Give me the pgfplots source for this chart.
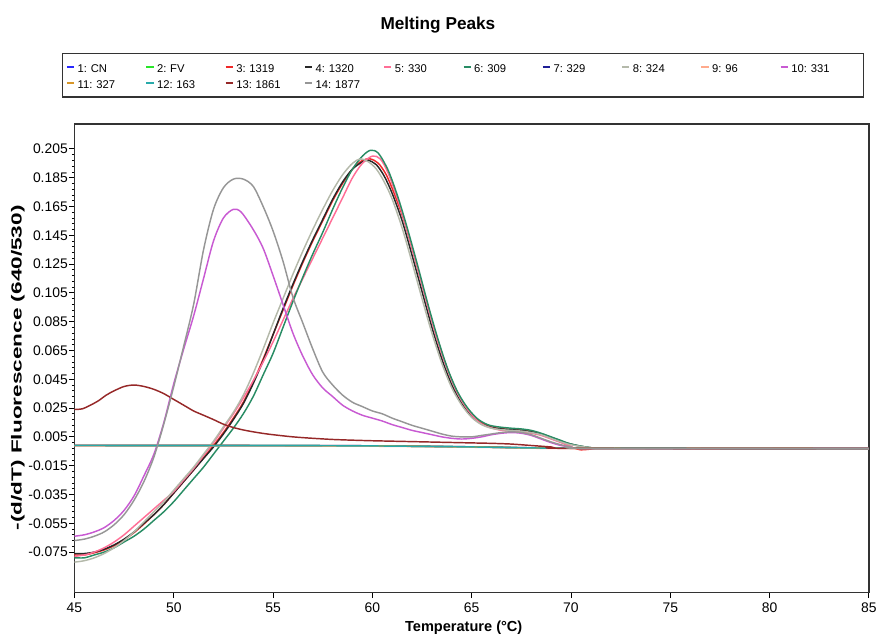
\documentclass[border=0pt]{standalone}
\usepackage{fontspec}
\setmainfont{Liberation Sans}
\usepackage{pgfplots}
\pgfplotsset{compat=1.18}
\frenchspacing

\definecolor{c1}{RGB}{40,40,255}
\definecolor{c2}{RGB}{40,230,40}
\definecolor{c3}{RGB}{240,40,40}
\definecolor{c4}{RGB}{40,40,40}
\definecolor{c5}{RGB}{255,110,150}
\definecolor{c6}{RGB}{40,140,100}
\definecolor{c7}{RGB}{30,30,150}
\definecolor{c8}{RGB}{180,185,170}
\definecolor{c9}{RGB}{255,170,140}
\definecolor{c10}{RGB}{200,90,210}
\definecolor{c11}{RGB}{215,150,40}
\definecolor{c12}{RGB}{40,170,170}
\definecolor{c13}{RGB}{150,40,40}
\definecolor{c14}{RGB}{150,150,150}

\begin{document}
\begin{tikzpicture}
\begin{axis}[
    width=600pt, height=354pt, scale only axis,
    xmin=45, xmax=85, ymin=-0.1033, ymax=0.2222,
    xtick={45,50,55,60,65,70,75,80,85},
    ytick={-0.075,-0.055,-0.035,-0.015,0.005,0.025,0.045,0.065,0.085,0.105,0.125,0.145,0.165,0.185,0.205},
    minor y tick num=4,
    tick align=outside, xtick pos=left, ytick pos=left,
    major tick length=4pt, minor tick length=2pt,
    tick style={black, line width=0.6pt},
    axis line style={line width=1pt, black!80},
    scaled y ticks=false,
    yticklabel style={xshift=2.5pt, /pgf/number format/.cd, fixed, fixed zerofill, precision=3, assume math mode=true},
    xticklabel style={/pgf/number format/assume math mode=true},
    ticklabel style={font=\fontsize{10.5}{12}\selectfont},
    title={Melting Peaks},
    title style={at={(rel axis cs:0.4575,1)}, anchor=center, yshift=69pt, font=\bfseries\fontsize{13}{15}\selectfont},
    xlabel={Temperature (°C)},
    every axis x label/.style={at={(rel axis cs:0.49,0)}, yshift=-26.25pt, anchor=center, font=\bfseries\fontsize{11}{13}\selectfont},
    ylabel={\scalebox{1.55}[1]{-(d/dT) Fluorescence (640/530)}},
    every axis y label/.style={at={(rel axis cs:0,0.48)}, xshift=-42.75pt, rotate=90, anchor=center, font=\bfseries\fontsize{11}{13}\selectfont},
    legend columns=10,
    legend cell align=left,
    legend image code/.code={\draw[#1, line width=1.2pt] (0pt,0pt) -- (5.5pt,0pt);},
    legend style={at={(rel axis cs:-0.01625,1)}, anchor=north west, yshift=54pt,
        draw=black!80, line width=1pt, inner xsep=3pt, inner ysep=4.5pt,
        font=\fontsize{8.5}{10}\selectfont,
        /tikz/every even column/.append style={column sep=0pt},
        nodes={inner xsep=2pt, inner ysep=1pt, text width=49.2pt, text height=9pt, text depth=1pt}},
    every axis plot/.append style={line width=1.1pt, mark=none, smooth, tension=0.5},
]
\coordinate (sw) at (rel axis cs:0,0);
\coordinate (ne) at (rel axis cs:1,1);

% 1: CN (flat)
\addplot[c1] coordinates {(45,-0.0009) (55,-0.0010) (60,-0.0012) (65,-0.0019) (70,-0.0028) (85,-0.0031)};
\addlegendentry{1: CN}
% 2: FV (flat)
\addplot[c2] coordinates {(45,-0.0010) (55,-0.0011) (60,-0.0013) (65,-0.0020) (70,-0.0029) (85,-0.0032)};
\addlegendentry{2: FV}
% 3: 1319
\addplot[c3] coordinates {
    (45,-0.077) (45.5,-0.077) (46,-0.0755) (46.5,-0.0735) (47,-0.0705) (47.5,-0.0665)
    (48,-0.0615) (48.5,-0.0555) (49,-0.049) (49.5,-0.042) (50,-0.034) (50.5,-0.026)
    (51,-0.018) (51.5,-0.0095) (52,-0.001) (52.5,0.008) (53,0.018) (53.5,0.029)
    (54,0.043) (54.5,0.059) (55,0.076) (55.5,0.093) (56,0.110) (56.5,0.126)
    (57,0.141) (57.5,0.155) (58,0.169) (58.5,0.181) (59,0.191) (59.5,0.197)
    (59.9,0.198) (60.3,0.195) (60.7,0.187) (61.1,0.174) (61.6,0.155) (62.1,0.131)
    (62.6,0.106) (63.1,0.081) (63.6,0.059) (64.1,0.041) (64.6,0.028) (65.1,0.019)
    (65.6,0.014) (66.1,0.0115) (66.6,0.0105) (67.1,0.010) (67.6,0.0095) (68.1,0.0085)
    (68.6,0.0065) (69.1,0.004) (69.6,0.001) (70,-0.002) (70.5,-0.004) (71,-0.0035)
    (72,-0.003) (85,-0.003)};
\addlegendentry{3: 1319}
% 4: 1320
\addplot[c4] coordinates {
    (45,-0.076) (45.5,-0.076) (46,-0.075) (46.5,-0.073) (47,-0.070) (47.5,-0.066)
    (48,-0.061) (48.5,-0.055) (49,-0.049) (49.5,-0.042) (50,-0.034) (50.5,-0.026)
    (51,-0.018) (51.5,-0.010) (52,-0.002) (52.5,0.007) (53,0.017) (53.5,0.028)
    (54,0.042) (54.5,0.058) (55,0.076) (55.5,0.094) (56,0.111) (56.5,0.127)
    (57,0.142) (57.5,0.156) (58,0.170) (58.5,0.182) (59,0.191) (59.5,0.196)
    (59.8,0.197) (60.2,0.194) (60.6,0.186) (61,0.174) (61.5,0.155) (62,0.131)
    (62.5,0.106) (63,0.081) (63.5,0.059) (64,0.041) (64.5,0.028) (65,0.019)
    (65.5,0.014) (66,0.0115) (66.5,0.0105) (67,0.010) (67.5,0.0095) (68,0.0085)
    (68.5,0.007) (69,0.0045) (69.5,0.002) (70,0.0) (70.5,-0.0015) (71,-0.0025)
    (72,-0.003) (85,-0.0032)};
\addlegendentry{4: 1320}
% 5: 330
\addplot[c5] coordinates {
    (45,-0.078) (45.5,-0.077) (46,-0.075) (46.5,-0.072) (47,-0.068) (47.5,-0.063)
    (48,-0.057) (48.5,-0.051) (49,-0.045) (49.5,-0.039) (50,-0.033) (50.5,-0.025)
    (51,-0.017) (51.5,-0.008) (52,0.001) (52.5,0.011) (53,0.021) (53.5,0.032)
    (54,0.044) (54.5,0.057) (55,0.071) (55.5,0.086) (56,0.101) (56.5,0.115)
    (57,0.129) (57.5,0.143) (58,0.157) (58.5,0.171) (59,0.185) (59.5,0.195)
    (60,0.200) (60.4,0.198) (60.8,0.188) (61.3,0.169) (61.8,0.146) (62.3,0.121)
    (62.8,0.095) (63.3,0.071) (63.8,0.051) (64.3,0.035) (64.8,0.024) (65.3,0.016)
    (65.8,0.012) (66.5,0.0095) (67,0.009) (67.5,0.0085) (68,0.0075) (68.5,0.006)
    (69,0.0035) (69.5,0.001) (70,-0.0015) (71,-0.003) (85,-0.0032)};
\addlegendentry{5: 330}
% 6: 309
\addplot[c6] coordinates {
    (45,-0.079) (45.5,-0.079) (46,-0.077) (46.5,-0.075) (47,-0.072) (47.5,-0.068)
    (48,-0.064) (48.5,-0.059) (49,-0.053) (49.5,-0.047) (50,-0.040) (50.5,-0.032)
    (51,-0.024) (51.5,-0.016) (52,-0.007) (52.5,0.002) (53,0.011) (53.5,0.021)
    (54,0.033) (54.5,0.048) (55,0.063) (55.5,0.081) (56,0.099) (56.5,0.116)
    (57,0.132) (57.5,0.147) (58,0.163) (58.5,0.178) (59,0.191) (59.5,0.200)
    (59.9,0.204) (60.3,0.202) (60.8,0.190) (61.3,0.171) (61.8,0.148) (62.3,0.123)
    (62.8,0.097) (63.3,0.073) (63.8,0.052) (64.3,0.036) (64.8,0.025) (65.3,0.0175)
    (65.8,0.0135) (66.3,0.012) (67,0.011) (67.5,0.0105) (68,0.0095) (68.5,0.0075)
    (69,0.005) (69.5,0.0025) (70,0.0) (71,-0.0025) (72,-0.003) (85,-0.0032)};
\addlegendentry{6: 309}
% 7: 329 (flat)
\addplot[c7] coordinates {(45,-0.0010) (55,-0.0011) (60,-0.0013) (65,-0.0020) (70,-0.0029) (85,-0.0032)};
\addlegendentry{7: 329}
% 8: 324
\addplot[c8] coordinates {
    (45,-0.082) (45.5,-0.081) (46,-0.079) (46.5,-0.076) (47,-0.072) (47.5,-0.067)
    (48,-0.061) (48.5,-0.054) (49,-0.047) (49.5,-0.040) (50,-0.032) (50.5,-0.024)
    (51,-0.016) (51.5,-0.007) (52,0.002) (52.5,0.012) (53,0.022) (53.5,0.034)
    (54,0.049) (54.5,0.066) (55,0.084) (55.5,0.101) (56,0.118) (56.5,0.134)
    (57,0.149) (57.5,0.163) (58,0.176) (58.5,0.187) (59,0.195) (59.4,0.198)
    (59.8,0.196) (60.2,0.191) (60.6,0.182) (61,0.170) (61.5,0.150) (62,0.126)
    (62.5,0.101) (63,0.077) (63.5,0.056) (64,0.039) (64.5,0.027) (65,0.0185)
    (65.5,0.0135) (66,0.011) (66.5,0.010) (67,0.0095) (67.5,0.009) (68,0.008)
    (68.5,0.0065) (69,0.004) (69.5,0.0015) (70,-0.0005) (71,-0.0025) (72,-0.003)
    (85,-0.0031)};
\addlegendentry{8: 324}
% 9: 96 (flat)
\addplot[c9] coordinates {(45,-0.0012) (55,-0.0013) (60,-0.0015) (65,-0.0022) (70,-0.0031) (85,-0.0034)};
\addlegendentry{9: 96}
% 10: 331
\addplot[c10] coordinates {
    (45,-0.064) (45.5,-0.063) (46,-0.061) (46.5,-0.058) (47,-0.053) (47.5,-0.046)
    (48,-0.036) (48.5,-0.022) (49,-0.007) (49.5,0.015) (50,0.042) (50.5,0.066)
    (51,0.089) (51.5,0.115) (52,0.141) (52.5,0.157) (53,0.163) (53.4,0.161)
    (54,0.149) (54.5,0.136) (55,0.117) (55.5,0.097) (56,0.077) (56.5,0.061)
    (57,0.048) (57.5,0.039) (58,0.033) (58.5,0.027) (59,0.023) (59.5,0.020)
    (60,0.018) (60.5,0.016) (61,0.0135) (61.5,0.0115) (62,0.0095) (62.5,0.008)
    (63,0.0065) (63.5,0.005) (64,0.004) (64.5,0.0035) (65,0.004) (65.5,0.005)
    (66,0.0065) (66.5,0.0075) (67,0.008) (67.5,0.0075) (68,0.006) (68.5,0.0035)
    (69,0.001) (69.5,-0.001) (70,-0.002) (71,-0.003) (85,-0.0032)};
\addlegendentry{10: 331}
% 11: 327 (flat)
\addplot[c11] coordinates {(45,-0.0009) (55,-0.0010) (60,-0.0012) (65,-0.0019) (70,-0.0028) (85,-0.0031)};
\addlegendentry{11: 327}
% 12: 163 (flat)
\addplot[c12] coordinates {(45,-0.0010) (55,-0.0011) (60,-0.0013) (65,-0.0020) (70,-0.0029) (85,-0.0032)};
\addlegendentry{12: 163}
% 13: 1861
\addplot[c13] coordinates {
    (45,0.024) (45.4,0.0245) (45.8,0.027) (46.2,0.030) (46.6,0.034) (47,0.037)
    (47.5,0.040) (48,0.041) (48.5,0.040) (49,0.038) (49.5,0.035) (50,0.031)
    (50.5,0.027) (51,0.023) (51.5,0.020) (52,0.017) (52.5,0.0138) (53,0.0115)
    (53.5,0.0098) (54,0.0085) (54.5,0.0074) (55,0.0065) (56,0.005) (57,0.004)
    (58,0.0032) (59,0.0027) (60,0.0023) (61,0.002) (62,0.0017) (63,0.0014)
    (64,0.0011) (65,0.0008) (66,0.0005) (67,0.0) (68,-0.001) (69,-0.002)
    (70,-0.003) (85,-0.0031)};
\addlegendentry{13: 1861}
% 14: 1877
\addplot[c14] coordinates {
    (45,-0.067) (45.5,-0.066) (46,-0.064) (46.5,-0.061) (47,-0.056) (47.5,-0.049)
    (48,-0.039) (48.5,-0.026) (49,-0.009) (49.5,0.014) (50,0.040) (50.5,0.068)
    (51,0.097) (51.5,0.135) (52,0.163) (52.5,0.178) (53,0.184) (53.5,0.184)
    (54,0.179) (54.5,0.165) (55,0.148) (55.5,0.127) (56,0.102) (56.5,0.084)
    (57,0.066) (57.5,0.050) (58,0.041) (58.5,0.034) (59,0.029) (59.5,0.026)
    (60,0.023) (60.5,0.021) (61,0.018) (61.5,0.0155) (62,0.013) (62.5,0.011)
    (63,0.009) (63.5,0.007) (64,0.0055) (64.5,0.005) (65,0.005) (65.5,0.006)
    (66,0.007) (66.5,0.008) (67,0.0085) (67.5,0.008) (68,0.0065) (68.5,0.004)
    (69,0.0015) (69.5,-0.0005) (70,-0.002) (71,-0.003) (85,-0.0033)};
\addlegendentry{14: 1877}
\end{axis}
\path ([xshift=-56.25pt, yshift=-33.75pt]sw) rectangle ([xshift=4.5pt, yshift=93.75pt]ne);
\end{tikzpicture}
\end{document}
